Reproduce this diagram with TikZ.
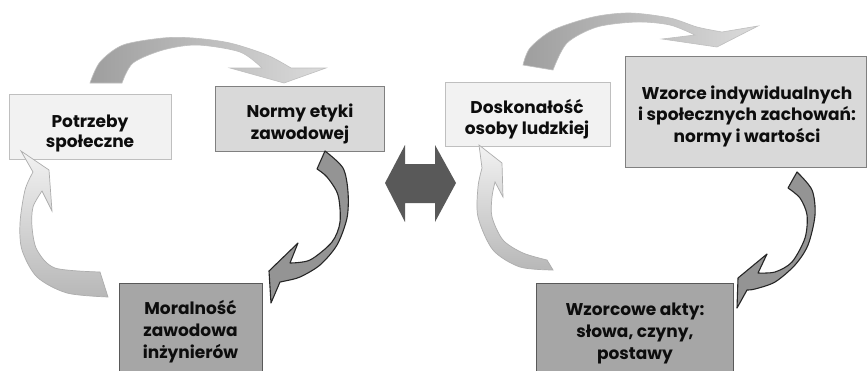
\documentclass[tikz,border=0pt]{standalone}
\usepackage{fontspec}
\setmainfont{Poppins}
\definecolor{boxA}{HTML}{F2F2F2}
\definecolor{boxAl}{HTML}{BFBFBF}
\definecolor{boxB}{HTML}{D9D9D9}
\definecolor{boxBl}{HTML}{808080}
\definecolor{boxC}{HTML}{A6A6A6}
\definecolor{boxCl}{HTML}{595959}
\definecolor{dark}{HTML}{595959}
\begin{document}
\begin{tikzpicture}[x=1pt,y=-1pt,
  box/.style={draw, line width=1.3pt, inner sep=0pt, anchor=north west},
  lightbox/.style={box, fill=boxA, draw=boxAl},
  midbox/.style={box, fill=boxB, draw=boxBl},
  darkbox/.style={box, fill=boxC, draw=boxCl},
  lbl/.style={font=\bfseries\fontsize{17}{22}\selectfont, anchor=base, inner sep=0pt, text=black!95},
  toparrow/.style={left color=white!62!black, right color=white!86!black, draw=white!75!black, line width=0.6pt},
  rightarrow/.style={fill=white!58!black, draw=black!85, line width=1.1pt, line join=round},
  leftarrow/.style={top color=white!95!black, bottom color=white!72!black, draw=white!68!black, line width=0.7pt}
]
\useasboundingbox (0,0) rectangle (867,370);
\clip (0,0) rectangle (867,370);
\fill[white] (0,0) rectangle (867,370);

% ---------- left cycle ----------
\node[lightbox, minimum width=162pt, minimum height=65pt] (P) at (9,94) {};
\node[midbox, minimum width=169pt, minimum height=65pt] (N) at (215,86) {};
\node[darkbox, minimum width=143pt, minimum height=100pt] (M) at (119,283) {};

\node[lbl] (p1) at (90,127) {Potrzeby};
\node[lbl] (p2) at (90,147) {społeczne};
\node[lbl] (n1) at (300,117) {Normy etyki};
\node[lbl] (n2) at (300,139) {zawodowej};
\node[lbl] (m1) at (190.5,314) {Moralność};
\node[lbl] (m2) at (190.5,336) {zawodowa};
\node[lbl] (m3) at (190.5,358) {inżynierów};

% top arrow (P -> N)
\path[toparrow] (90,83) -- plot[smooth] coordinates {(90,83) (100,62) (123,45) (163,38) (193,38) (230,43) (267,55) (291,68)}
  -- (326,68) -- (284,83) -- (230,68)
  -- plot[smooth] coordinates {(262,68) (240,52) (197,45) (163,50) (133,63) (122,83)} -- cycle;
% right arrow (N -> M)
\path[rightarrow] (325,151) -- plot[smooth] coordinates {(325,151) (343,168) (348,192) (347,218) (337,245) (320,265) (300,277) (285,281) (280,282)}
  -- (271,303) -- (269,271) -- (298,243)
  -- plot[smooth] coordinates {(290,263) (310,260) (332,242) (340,222) (338,195) (327,177) (317,169)} -- cycle;
% left arrow (M -> P)
\path[leftarrow] (21,151) -- (49,170) -- (52,211)
  -- plot[smooth] coordinates {(42,191) (33,207) (32,227) (37,250) (55,268) (100,272)}
  -- plot[smooth] coordinates {(108,297) (67,293) (37,277) (22,250) (20,223) (25,190) (33,172)} -- cycle;

% ---------- double arrow ----------
\path[fill=dark] (385,183) -- (405,145) -- (405,164) -- (435,164) -- (435,145) -- (456,183)
  -- (435,222) -- (435,203) -- (405,203) -- (405,222) -- cycle;

% ---------- right cycle ----------
\node[lightbox, minimum width=165pt, minimum height=64pt] (D) at (445,82) {};
\node[midbox, minimum width=241pt, minimum height=111pt] (W) at (625,56) {};
\node[darkbox, minimum width=197pt, minimum height=100pt] (A) at (536,283) {};

\node[lbl] (d1) at (527,113) {Doskonałość};
\node[lbl] (d2) at (527,134) {osoby ludzkiej};
\node[lbl] (w1) at (747,99) {Wzorce indywidualnych};
\node[lbl] (w2) at (747,120) {i społecznych zachowań:};
\node[lbl] (w3) at (747,142) {normy i wartości};
\node[lbl] (a1) at (635,315) {Wzorcowe akty:};
\node[lbl] (a2) at (635,337) {słowa, czyny,};
\node[lbl] (a3) at (635,359) {postawy};

% top arrow (D -> W)
\path[toparrow] (523,65) -- plot[smooth] coordinates {(523,65) (530,48) (553,30) (593,17) (630,13) (670,18) (697,27) (722,32)}
  -- (758,26) -- (717,47) -- (662,39)
  -- plot[smooth] coordinates {(695,35) (670,25) (637,22) (597,27) (567,43) (553,70)} -- cycle;
% right arrow (W -> A)
\path[rightarrow] (797,172) -- plot[smooth] coordinates {(797,172) (812,190) (815,215) (808,245) (795,265) (775,282) (755,289) (747,290)}
  -- (737,308) -- (738,278) -- (767,254)
  -- plot[smooth] coordinates {(758,273) (775,272) (792,262) (805,238) (807,215) (800,198) (788,188)} -- cycle;
% left arrow (A -> D)
\path[leftarrow] (479,145) -- (502,163) -- (503,197)
  -- plot[smooth] coordinates {(495,182) (492,197) (492,217) (503,240) (523,253) (547,260)}
  -- plot[smooth] coordinates {(553,270) (520,267) (493,250) (478,217) (478,187) (482,168)} -- cycle;
\end{tikzpicture}
\end{document}
